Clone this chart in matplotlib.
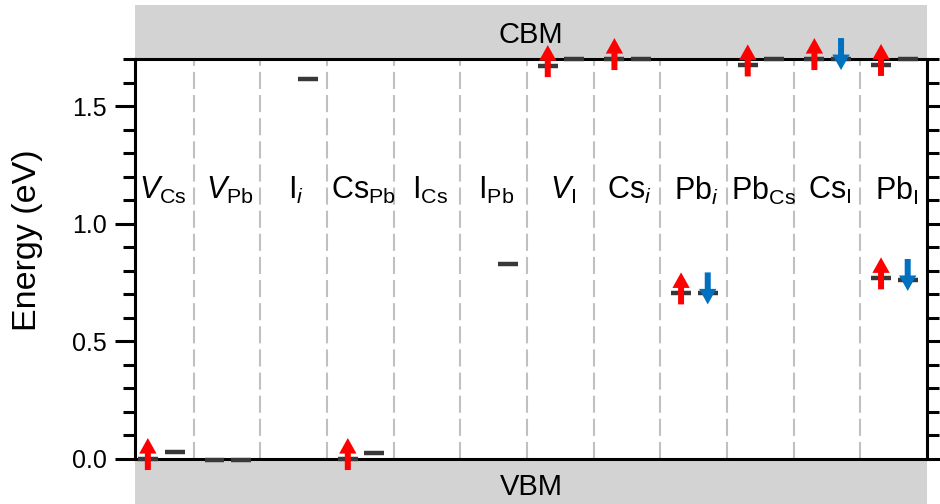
import matplotlib
matplotlib.use("Agg")
import matplotlib.pyplot as plt
from matplotlib.ticker import FixedLocator

plt.rcParams['font.family'] = ['Liberation Sans', 'DejaVu Sans']
plt.rcParams['mathtext.fontset'] = 'custom'
plt.rcParams['mathtext.rm'] = 'Liberation Sans'
plt.rcParams['mathtext.it'] = 'Liberation Sans:italic'

# defect names, one per column
labels = [r'$\mathit{V}_{\mathrm{Cs}}$', r'$\mathit{V}_{\mathrm{Pb}}$', r'$\mathrm{I}_{\mathit{i}}$',
          r'$\mathrm{Cs}_{\mathrm{Pb}}$', r'$\mathrm{I}_{\mathrm{Cs}}$', r'$\mathrm{I}_{\mathrm{Pb}}$',
          r'$\mathit{V}_{\mathrm{I}}$', r'$\mathrm{Cs}_{\mathit{i}}$', r'$\mathrm{Pb}_{\mathit{i}}$',
          r'$\mathrm{Pb}_{\mathrm{Cs}}$', r'$\mathrm{Cs}_{\mathrm{I}}$', r'$\mathrm{Pb}_{\mathrm{I}}$']

# defect levels: column, slot (L/R), energy (eV), spin arrow
lvl_col  = [0, 0, 1, 1, 2, 3, 3, 5, 6, 6, 7, 7, 8, 8, 9, 9, 10, 10, 11, 11, 11, 11]
lvl_slot = ['L', 'R', 'L', 'R', 'R', 'L', 'R', 'R', 'L', 'R', 'L', 'R', 'L', 'R',
            'L', 'R', 'L', 'R', 'L', 'R', 'L', 'R']
lvl_E    = [0.0, 0.03, -0.004, -0.004, 1.614, 0.0, 0.024, 0.827, 1.670, 1.70, 1.70, 1.70,
            0.704, 0.704, 1.673, 1.70, 1.70, 1.70, 1.675, 1.70, 0.768, 0.761]
lvl_spin = ['up', '', '', '', '', 'up', '', '', 'up', '', 'up', '', 'up', 'down',
            'up', '', 'up', 'down', 'up', '', 'up', 'down']

major_ticks = [0.0, 0.5, 1.0, 1.5]
minor_ticks = [0.1, 0.2, 0.3, 0.4, 0.6, 0.7, 0.8, 0.9, 1.1, 1.2, 1.3, 1.4, 1.6, 1.7]

gap = 1.7
ncol = len(labels)
slot_off = {'L': 0.31, 'R': 0.71}

fig = plt.figure(figsize=(9.4, 5.04), dpi=100)
ax = fig.add_axes([0.1436, 0.0006, 0.8426, 0.9897])
ax.set_xlim(0.117, ncol)
ax.set_ylim(-0.19, 1.93)

# band regions
ax.axhspan(gap, 2.5, color='#d3d3d3', lw=0, zorder=0)
ax.axhspan(-0.5, 0, color='#d3d3d3', lw=0, zorder=0)
ax.text(ncol / 2 + 0.06, 1.80, 'CBM', ha='center', va='center', fontsize=21)
ax.text(ncol / 2 + 0.06, -0.12, 'VBM', ha='center', va='center', fontsize=21)

# column dividers
for k in range(1, ncol):
    ax.plot([k, k], [0, gap], color='#c0c0c0', lw=1.5, ls=(0, (8.2, 2.9)), zorder=1)

# frame
ax.plot([0.117, ncol], [gap, gap], color='black', lw=2.2, zorder=2, solid_capstyle='butt')
ax.plot([0.117, ncol], [0, 0], color='black', lw=2.2, zorder=2, solid_capstyle='butt')
for s in ['top', 'bottom']:
    ax.spines[s].set_visible(False)
for s in ['left', 'right']:
    ax.spines[s].set_bounds(0, gap)
    ax.spines[s].set_linewidth(2.2)

ax.set_xticks([])
ax.yaxis.set_major_locator(FixedLocator(major_ticks))
ax.yaxis.set_minor_locator(FixedLocator(minor_ticks))
ax.set_yticklabels(['%.1f' % t for t in major_ticks])
ax.tick_params(axis='y', which='major', direction='out', length=14.5, width=2.2,
               labelsize=18, right=True, pad=6)
ax.tick_params(axis='y', which='minor', direction='out', length=8.5, width=2.2, right=True)
ax.text(-0.136, 0.529, 'Energy (eV)', transform=ax.transAxes, rotation=90,
        ha='center', va='center', fontsize=24.5)

for k, lab in enumerate(labels):
    ax.text(k + 0.54, 1.14, lab, ha='center', va='center', fontsize=22)

# levels and spin arrows
yb, yt = 0.047, 0.089
for c, s, e, sp in zip(lvl_col, lvl_slot, lvl_E, lvl_spin):
    x = c + slot_off[s]
    ax.plot([x - 0.15, x + 0.15], [e, e], color='#383838', lw=3.2, zorder=3,
            solid_capstyle='butt')
    if sp == 'up':
        ax.arrow(x, e - yb, 0, yb + yt, width=0.09, head_width=0.26, head_length=0.066,
                 length_includes_head=True, color='#ff0000', lw=0, zorder=4)
    elif sp == 'down':
        ax.arrow(x, e + yt, 0, -(yb + yt), width=0.09, head_width=0.26, head_length=0.066,
                 length_includes_head=True, color='#0070c0', lw=0, zorder=4)

fig.savefig('out.png', dpi=100)
